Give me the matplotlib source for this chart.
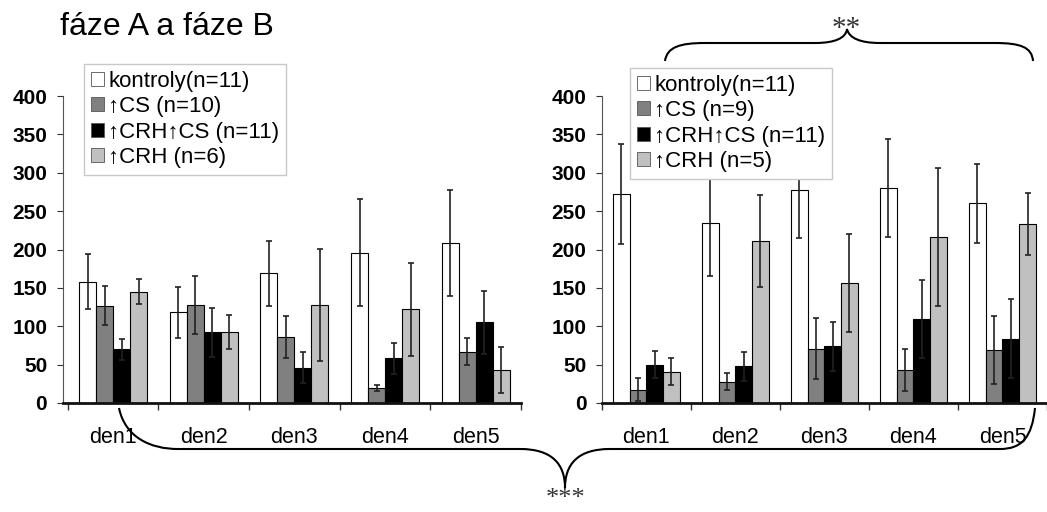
import numpy as np
import matplotlib
matplotlib.use('Agg')
import matplotlib.pyplot as plt
from matplotlib.path import Path
from matplotlib.patches import PathPatch

# data
days = ['den1', 'den2', 'den3', 'den4', 'den5']

# faze A (left)
kontroly_A = [158, 118, 169, 196, 208]
kontroly_A_err = [36, 33, 42, 70, 69]
cs_A = [127, 128, 86, 19, 67]
cs_A_err = [25, 38, 27, 4, 18]
crhcs_A = [70, 92, 46, 58, 105]
crhcs_A_err = [14, 32, 20, 20, 41]
crh_A = [145, 93, 128, 122, 43]
crh_A_err = [16, 22, 73, 61, 30]
labels_A = ['kontroly(n=11)', '↑CS (n=10)', '↑CRH↑CS (n=11)', '↑CRH (n=6)']

# faze B (right)
kontroly_B = [272, 234, 278, 280, 260]
kontroly_B_err = [65, 68, 63, 64, 52]
cs_B = [17, 28, 71, 43, 69]
cs_B_err = [15, 11, 40, 28, 44]
crhcs_B = [50, 48, 74, 109, 84]
crhcs_B_err = [18, 19, 32, 51, 52]
crh_B = [41, 211, 156, 216, 233]
crh_B_err = [17, 60, 64, 90, 40]
labels_B = ['kontroly(n=11)', '↑CS (n=9)', '↑CRH↑CS (n=11)', '↑CRH (n=5)']

colors = ['white', '#808080', 'black', '#c0c0c0']
W, H = 1047, 512

fig = plt.figure(figsize=(W / 100, H / 100), dpi=100)

sans = ['Liberation Sans', 'DejaVu Sans']


def panel(rect, series, errs, labels, xmin, xmax, leg_anchor):
    ax = fig.add_axes(rect)
    x = np.arange(len(days))
    bw = 0.1875
    for i, (vals, err) in enumerate(zip(series, errs)):
        pos = x + (i - 1.5) * bw
        ax.bar(pos, vals, bw, color=colors[i], edgecolor='black', linewidth=0.8,
               label=labels[i], zorder=2)
        ax.errorbar(pos, vals, yerr=err, fmt='none', ecolor='#222222',
                    elinewidth=1.2, capsize=2.5, capthick=1.2, zorder=3)
    ax.set_ylim(0, 400)
    ax.set_xlim(xmin, xmax)
    ax.set_yticks(range(0, 401, 50))
    ax.set_yticklabels([str(v) for v in range(0, 401, 50)], fontweight='bold',
                       fontsize=15, family=sans)
    # category boundaries as ticks, names in the middle
    ax.set_xticks(np.arange(-0.5, 5, 1))
    ax.set_xticklabels([])
    ax.set_xticks(x, minor=True)
    ax.set_xticklabels(days, minor=True, fontsize=15.5, family=sans)
    ax.tick_params(axis='x', which='minor', length=0, pad=17)
    ax.tick_params(axis='x', which='major', length=5, width=1, color='#333333')
    ax.tick_params(axis='y', length=4, width=0.8, pad=7, color='#333333')
    for s in ['top', 'right']:
        ax.spines[s].set_visible(False)
    ax.spines['left'].set_linewidth(0.8)
    ax.spines['left'].set_color('#555555')
    ax.spines['bottom'].set_linewidth(2)
    ax.spines['bottom'].set_color('#111111')
    leg = ax.legend(loc='upper left', bbox_to_anchor=leg_anchor,
                    bbox_transform=fig.transFigure, frameon=True, fancybox=False,
                    prop={'family': sans, 'size': 16}, handlelength=0.6,
                    handleheight=0.6, handletextpad=0.2, labelspacing=0.2,
                    borderpad=0.3, borderaxespad=0)
    leg.get_frame().set_edgecolor('#c8c8c8')
    leg.get_frame().set_linewidth(1)
    leg.get_frame().set_alpha(1)
    leg.set_zorder(10)
    for p in leg.get_patches():
        p.set_linewidth(0.6)
        p.set_edgecolor('#555555')
    return ax


bottom = (H - 403) / H
height = 307 / H
panel([62.5 / W, bottom, (521 - 62.5) / W, height],
      [kontroly_A, cs_A, crhcs_A, crh_A],
      [kontroly_A_err, cs_A_err, crhcs_A_err, crh_A_err],
      labels_A, -0.558, 4.30, (84 / W, 1 - 64 / H))
panel([601.7 / W, bottom, (W - 601.7) / W, height],
      [kontroly_B, cs_B, crhcs_B, crh_B],
      [kontroly_B_err, cs_B_err, crhcs_B_err, crh_B_err],
      labels_B, -0.5, 4.222, (630 / W, 1 - 68 / H))

fig.text(60 / W, 1 - 27 / H, 'fáze A a fáze B', fontsize=23, family=sans,
         ha='left', va='center')


def brace(pts):
    # pts in pixel coords (y down), cubic segments
    verts = [(px / W, 1 - py / H) for px, py in pts]
    codes = [Path.MOVETO] + [Path.CURVE4] * (len(verts) - 1)
    fig.patches.append(PathPatch(Path(verts, codes), transform=fig.transFigure,
                                 fill=False, lw=1.5, edgecolor='black'))


# top brace (**)
brace([(665, 61), (667, 47), (680, 43), (705, 43),
       (745, 43), (780, 43), (815, 43),
       (835, 43), (846, 38), (847, 29),
       (849, 38), (860, 43), (880, 43),
       (920, 43), (955, 43), (995, 43),
       (1020, 43), (1032, 47), (1033, 61)])
fig.text(846 / W, 1 - 28.5 / H, '**', fontsize=21,
         family='Liberation Serif', ha='center', va='center', color='#333333')

# bottom brace (***)
brace([(119, 408), (125, 437), (150, 449), (178, 449),
       (300, 449), (420, 449), (520, 449),
       (552, 449), (565, 464), (565, 488),
       (565, 464), (578, 449), (610, 449),
       (740, 449), (870, 449), (1000, 449),
       (1022, 449), (1032, 437), (1035, 408)])
fig.text(566 / W, 1 - 499 / H, '***', fontsize=19,
         family='Liberation Serif', ha='center', va='center', color='#333333')

fig.savefig('out.png', dpi=100)
